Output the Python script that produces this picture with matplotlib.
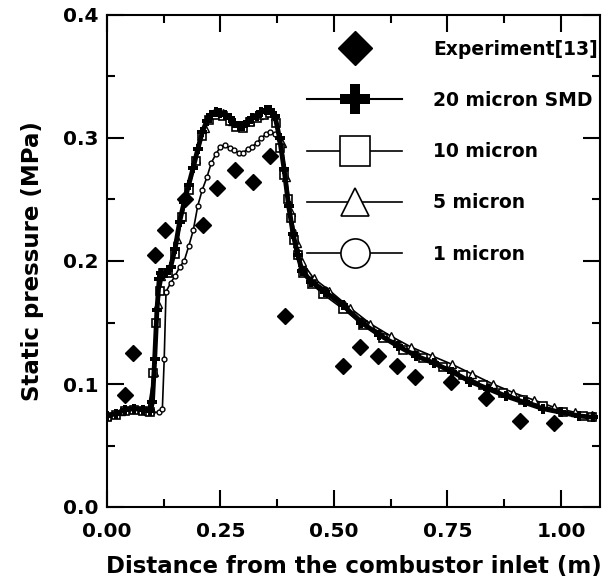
import numpy as np
import matplotlib
matplotlib.use('Agg')
import matplotlib.pyplot as plt
from matplotlib.lines import Line2D

plt.rcParams['font.family'] = ['DejaVu Sans']
plt.rcParams['font.weight'] = 'bold'

# experiment [13]
exp_x = [0.040, 0.057, 0.106, 0.128, 0.172, 0.211, 0.242, 0.282, 0.322, 0.359,
         0.392, 0.520, 0.557, 0.597, 0.638, 0.678, 0.757, 0.835, 0.910, 0.985]
exp_y = [0.091, 0.125, 0.205, 0.225, 0.250, 0.229, 0.259, 0.274, 0.264, 0.285,
         0.155, 0.115, 0.130, 0.123, 0.115, 0.106, 0.102, 0.089, 0.070, 0.068]

# 20 micron SMD
x20 = [0.00, 0.02, 0.04, 0.06, 0.08, 0.095, 0.100, 0.105, 0.110, 0.115, 0.120, 0.130,
       0.140, 0.150, 0.160, 0.170, 0.180, 0.190, 0.200, 0.210, 0.220, 0.230, 0.240,
       0.250, 0.260, 0.270, 0.280, 0.290, 0.300, 0.310, 0.320, 0.330, 0.340, 0.350,
       0.360, 0.370, 0.380, 0.390, 0.400, 0.410, 0.420, 0.430, 0.450, 0.480, 0.520,
       0.560, 0.600, 0.640, 0.680, 0.720, 0.760, 0.800, 0.840, 0.880, 0.920, 0.960,
       1.000, 1.040, 1.070]
y20 = [0.074, 0.076, 0.079, 0.080, 0.079, 0.078, 0.085, 0.120, 0.160, 0.185, 0.190, 0.190,
       0.195, 0.210, 0.232, 0.248, 0.262, 0.276, 0.291, 0.305, 0.314, 0.319, 0.321,
       0.320, 0.319, 0.316, 0.312, 0.310, 0.310, 0.313, 0.316, 0.318, 0.321, 0.323,
       0.323, 0.318, 0.300, 0.275, 0.245, 0.222, 0.205, 0.192, 0.183, 0.175, 0.164,
       0.150, 0.140, 0.131, 0.123, 0.117, 0.110, 0.102, 0.096, 0.090, 0.085, 0.080,
       0.077, 0.074, 0.073]

# 10 micron
x10 = [0.00, 0.02, 0.04, 0.06, 0.08, 0.095, 0.101, 0.108, 0.117, 0.124, 0.135, 0.150,
       0.165, 0.180, 0.195, 0.210, 0.225, 0.240, 0.255, 0.270, 0.285, 0.300, 0.315,
       0.330, 0.345, 0.360, 0.372, 0.382, 0.390, 0.398, 0.405, 0.412, 0.421, 0.432,
       0.452, 0.476, 0.520, 0.564, 0.608, 0.652, 0.696, 0.740, 0.784, 0.828, 0.872,
       0.916, 0.960, 1.004, 1.048, 1.068]
y10 = [0.073, 0.075, 0.078, 0.079, 0.078, 0.077, 0.109, 0.150, 0.176, 0.190, 0.190, 0.206,
       0.236, 0.258, 0.281, 0.302, 0.315, 0.319, 0.318, 0.314, 0.309, 0.308, 0.313,
       0.316, 0.319, 0.320, 0.312, 0.292, 0.270, 0.250, 0.235, 0.217, 0.205, 0.190,
       0.181, 0.173, 0.161, 0.148, 0.137, 0.128, 0.121, 0.114, 0.107, 0.099, 0.093,
       0.087, 0.082, 0.077, 0.074, 0.073]

# 5 micron
x5 = [0.00, 0.03, 0.06, 0.09, 0.104, 0.112, 0.120, 0.135, 0.155, 0.175, 0.195,
      0.215, 0.235, 0.255, 0.275, 0.295, 0.315, 0.335, 0.355, 0.370, 0.385, 0.395,
      0.405, 0.418, 0.430, 0.455, 0.490, 0.535, 0.580, 0.625, 0.670, 0.715, 0.760,
      0.805, 0.850, 0.895, 0.940, 0.985, 1.030, 1.068]
y5 = [0.074, 0.078, 0.080, 0.078, 0.110, 0.165, 0.188, 0.191, 0.218, 0.252, 0.283,
      0.308, 0.320, 0.320, 0.314, 0.310, 0.314, 0.319, 0.322, 0.318, 0.296, 0.268,
      0.240, 0.215, 0.199, 0.186, 0.176, 0.162, 0.149, 0.139, 0.130, 0.123, 0.116,
      0.108, 0.100, 0.093, 0.087, 0.081, 0.077, 0.075]

# 1 micron
x1 = [0.00, 0.02, 0.04, 0.06, 0.08, 0.10, 0.115, 0.122, 0.126, 0.130, 0.140, 0.150,
      0.160, 0.170, 0.180, 0.190, 0.200, 0.210, 0.220, 0.230, 0.240, 0.250, 0.260,
      0.270, 0.280, 0.290, 0.300, 0.310, 0.320, 0.330, 0.340, 0.350, 0.360, 0.370,
      0.380, 0.390, 0.400, 0.410, 0.420, 0.430, 0.450, 0.480, 0.520, 0.560, 0.600,
      0.640, 0.680, 0.720, 0.760, 0.800, 0.840, 0.880, 0.920, 0.960, 1.000, 1.040,
      1.070]
y1 = [0.074, 0.076, 0.079, 0.079, 0.078, 0.077, 0.077, 0.080, 0.120, 0.175, 0.182, 0.188,
      0.195, 0.200, 0.212, 0.225, 0.245, 0.258, 0.268, 0.280, 0.287, 0.293, 0.294,
      0.292, 0.290, 0.288, 0.288, 0.291, 0.293, 0.296, 0.300, 0.303, 0.305, 0.303,
      0.295, 0.272, 0.247, 0.224, 0.207, 0.194, 0.185, 0.177, 0.166, 0.152, 0.142,
      0.133, 0.125, 0.119, 0.112, 0.104, 0.098, 0.092, 0.087, 0.082, 0.078, 0.075,
      0.074]

labels = ['Experiment[13]', '20 micron SMD', '10 micron', '5 micron', '1 micron']

fig = plt.figure(figsize=(6.03, 5.83), dpi=100)
ax = fig.add_axes([107/603, 76/583, 493/603, 492/583])

ax.plot(x1, y1, color='k', lw=1.2, marker='o', ms=3.5, mfc='white', mew=1.0)
ax.plot(x5, y5, color='k', lw=1.2, marker='^', ms=6, mfc='white', mew=1.0)
ax.plot(x10, y10, color='k', lw=1.2, marker='s', ms=6, mfc='white', mew=1.2)
ax.plot(x20, y20, color='k', lw=3.5, marker='P', ms=7, mfc='k', mew=0)
ax.plot(exp_x, exp_y, ls='none', marker='D', ms=8, color='k', zorder=5)

ax.set_xlim(0, 1.086)
ax.set_ylim(0, 0.4)
ax.set_xticks([0, 0.25, 0.5, 0.75, 1.0])
ax.set_xticklabels(['0.00', '0.25', '0.50', '0.75', '1.00'])
ax.set_xticks(np.arange(0.125, 1.08, 0.25), minor=True)
ax.set_yticks([0, 0.1, 0.2, 0.3, 0.4])
ax.set_yticklabels(['0.0', '0.1', '0.2', '0.3', '0.4'])
ax.set_yticks([0.05, 0.15, 0.25, 0.35], minor=True)
ax.tick_params(which='both', direction='in', top=True, right=True, width=1.5,
               labelsize=14.5)
ax.tick_params(axis='y', pad=6)
ax.tick_params(axis='x', pad=11)
ax.tick_params(which='major', length=12)
ax.tick_params(which='minor', length=6)
for s in ax.spines.values():
    s.set_linewidth(1.5)

ax.set_xlabel('Distance from the combustor inlet (m)', fontsize=16.5, fontweight='bold', labelpad=10)
ax.set_ylabel('Static pressure (MPa)', fontsize=16.5, fontweight='bold', labelpad=14)

handles = [
    Line2D([], [], ls='none', marker='D', ms=17, color='k'),
    Line2D([], [], color='k', lw=1.5, marker='P', ms=22, mfc='k', mew=0),
    Line2D([], [], color='k', lw=1.2, marker='s', ms=22, mfc='white', mew=1.2),
    Line2D([], [], color='k', lw=1.2, marker='^', ms=20, mfc='white', mew=1.2),
    Line2D([], [], color='k', lw=1.2, marker='o', ms=21, mfc='white', mew=1.2),
]
ax.legend(handles, labels, loc='upper left', bbox_to_anchor=(0.406, 0.95),
          frameon=False, fontsize=13.5, handlelength=5.07, handletextpad=1.65,
          labelspacing=1.72, borderpad=0, borderaxespad=0)

fig.savefig('out.png', dpi=100)
